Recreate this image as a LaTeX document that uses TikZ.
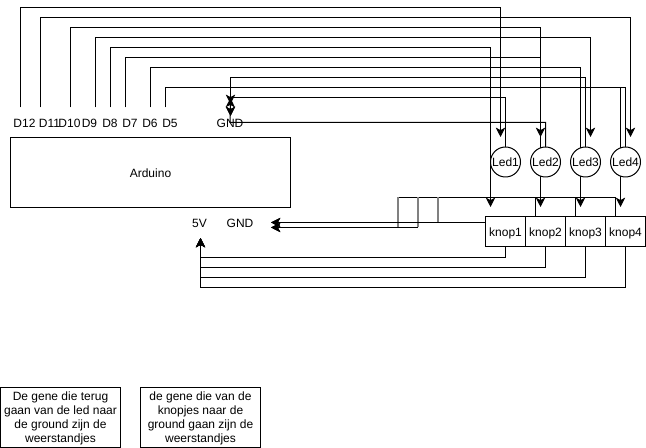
\documentclass[tikz,border=0pt]{standalone}
\usepackage{fontspec}
\setmainfont{Liberation Sans}
\usetikzlibrary{arrows.meta,backgrounds}
\tikzset{
    wire/.style={line width=0.75pt, draw=black},
    wirehead/.style={wire, -{Stealth[length=7pt,width=7pt,inset=1.8pt]}},
    graywire/.style={line width=1.2pt, draw=black!50},
    basetext/.style={inner sep=0pt, font=\fontsize{9}{10.5}\selectfont},
    pinlabel/.style={basetext, text height=6.8pt, text depth=0pt},
    board/.style={draw, line width=0.75pt, outer sep=0pt, minimum width=210pt, minimum height=52.5pt, pinlabel},
    led/.style={draw, circle, fill=white, line width=0.75pt, outer sep=0pt, minimum size=22.5pt, pinlabel},
    knop/.style={draw, fill=white, line width=0.75pt, outer sep=0pt, minimum width=30pt, minimum height=22.5pt, pinlabel},
    note/.style={draw, line width=0.75pt, outer sep=0pt, minimum width=90pt, minimum height=45pt, basetext, align=center}
}
\begin{document}
\begin{tikzpicture}[x=0.75pt, y=-0.75pt]
    \useasboundingbox (0,0) rectangle (646,448);

    \node[board] (arduino) at (150.5,172.5) {Arduino};
    \foreach \name/\x in {D12/24.5,D11/49.5,D10/69.5,D9/89.5,D8/110,D7/130,D6/150,D5/170}{
        \node[pinlabel] (\name) at (\x,122.5) {\name};
    }
    \node[pinlabel] (gndtop) at (230,122.5) {GND};
    \node[pinlabel] (fivev) at (199.5,222.5) {5V};
    \node[pinlabel] (gndlow) at (240,222.5) {GND};

    \foreach \i/\x in {1/505.5,2/545.5,3/585.5,4/625.5}{
        \node[led] (led\i) at (\x,162) {Led\i};
    }
    \foreach \i/\x in {1/505.5,2/545.5,3/585.5,4/625.5}{
        \node[knop] (knop\i) at (\x,232) {knop\i};
    }
    \node[note] (noteled) at (60.5,417.5) {\rule{0pt}{8.2pt}De gene die terug\\gaan van de led naar\\de ground zijn de\\weerstandjes};
    \node[note] (noteknop) at (200.5,417.5) {\rule{0pt}{8.2pt}de gene die van de\\knopjes naar de\\ground gaan zijn de\\weerstandjes};

    % wire ends
    \foreach \name/\x in {D12/20.5,D11/40.5,D10/70.5,D9/95.5,D8/110.5,D7/125.5,D6/150.5,D5/165.5}{
        \coordinate (pin\name) at (\x,107.5);
    }
    \foreach \i/\x in {1/500.5,2/540.5,3/590.5,4/630.5}{
        \coordinate (tipled\i) at (\x,137);
    }
    \foreach \i/\x in {1/490.5,2/540.5,3/580.5,4/620.5}{
        \coordinate (tipknop\i) at (\x,207);
    }
    \foreach \i/\x in {2/535.5,3/575.5,4/615.5}{
        \coordinate (topknop\i) at (\x,217);
    }
    \coordinate (tipgnd) at (230.5,116);
    \coordinate (tipgndmid) at (230.5,104);
    \coordinate (tipgndup) at (230.5,98);
    \coordinate (tipvijf) at (200.5,238);
    \coordinate (tipgndlow) at (271,222.5);

    \begin{scope}[on background layer]
        % pins to leds and knoppen
        \foreach \name/\y/\tip in {D12/7.5/tipled1,D11/17.5/tipled4,D10/27.5/tipled2,D9/37.5/tipled3,D8/47.5/tipknop1,D7/57.5/tipknop2,D6/67.5/tipknop3,D5/87.5/tipknop4}{
            \draw[wirehead] (pin\name) -- (pin\name |- 0,\y) -- (\tip |- 0,\y) -- (\tip);
        }
        % leds back to ground
        \draw[wirehead] (led3.north) -- (led3.north |- 0,77.5) -- (tipgnd |- 0,77.5) -- (tipgnd);
        \draw[wirehead] (led4.north) -- (led4.north |- 0,87.5) -- (tipgnd |- 0,87.5) -- (tipgnd);
        \draw[wirehead] (led1.north) -- (led1.north |- 0,97.5) -- (tipgndmid |- 0,97.5) -- (tipgndmid);
        \draw[wirehead] (led2.north) -- (led2.north |- gndtop) -- (gndtop.center) -- (tipgndup);

        % knoppen to ground
        \draw[wirehead] (knop1.west |- tipgndlow) -- (tipgndlow);
        \foreach \i/\x/\y in {2/398/227.5,3/418/227.5,4/438/222.5}{
            \draw[wire] (topknop\i) -- (topknop\i |- 0,197.5) -- (\x,197.5);
            \draw[wirehead] (\x,\y) -- (tipgndlow |- 0,\y);
            \draw[graywire] (\x,197.5) -- (\x,\y);
        }

        % knoppen to 5V
        \foreach \i/\y in {1/257.5,2/267.5,3/277.5,4/287.5}{
            \draw[wirehead] (knop\i.south) -- (knop\i.south |- 0,\y) -- (tipvijf |- 0,\y) -- (tipvijf);
        }
    \end{scope}
\end{tikzpicture}
\end{document}
